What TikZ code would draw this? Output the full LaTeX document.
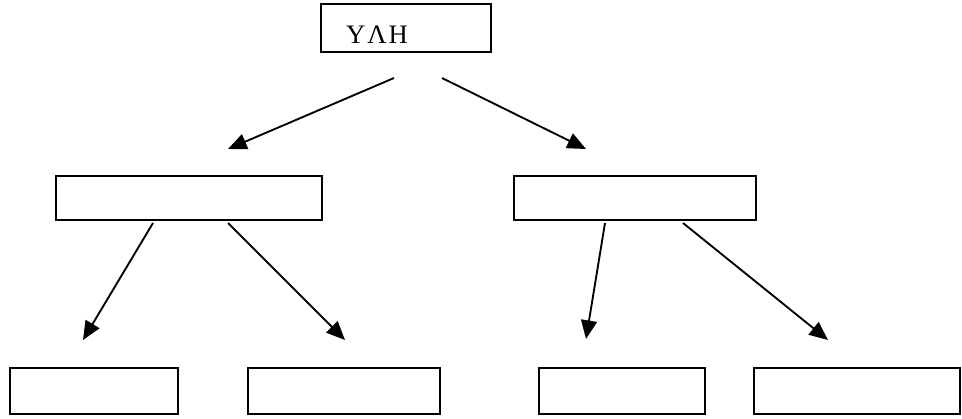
\documentclass[tikz,border=0pt]{standalone}
\usepackage{fontspec}
\setmainfont{Liberation Serif}
\usetikzlibrary{arrows.meta}
\begin{document}
\begin{tikzpicture}[x=0.75pt,y=-0.75pt,
  box/.style={draw,line width=1.7pt,inner sep=0pt},
  conn/.style={line width=1.4pt,-{Triangle[length=14pt,width=12pt]}}]
\useasboundingbox (0,0) rectangle (962,418);
% boxes
\node[box,minimum width=170*0.75pt,minimum height=48*0.75pt] (top) at (406,28) {};
\node[font=\fontsize{20}{24}\selectfont,inner sep=0pt] (toptext) at (377,34.5) {Υ\kern1.5ptΛ\kern1.5ptΗ};
\node[box,minimum width=266*0.75pt,minimum height=44*0.75pt] (ml) at (189,198) {};
\node[box,minimum width=242*0.75pt,minimum height=44*0.75pt] (mr) at (635,198) {};
\node[box,minimum width=168*0.75pt,minimum height=46*0.75pt] (b1) at (94,391) {};
\node[box,minimum width=192*0.75pt,minimum height=46*0.75pt] (b2) at (344,391) {};
\node[box,minimum width=166*0.75pt,minimum height=46*0.75pt] (b3) at (622,391) {};
\node[box,minimum width=206*0.75pt,minimum height=46*0.75pt] (b4) at (857,391) {};
% connector ends
\coordinate (s1) at (394,78); \coordinate (e1) at (228,149);
\coordinate (s2) at (442,78); \coordinate (e2) at (586,149);
\coordinate (s3) at (153,223); \coordinate (e3) at (83,340);
\coordinate (s4) at (228,223); \coordinate (e4) at (345,340);
\coordinate (s5) at (605,223); \coordinate (e5) at (586,339);
\coordinate (s6) at (683,223); \coordinate (e6) at (828,340);
\draw[conn] (s1) -- (e1);
\draw[conn] (s2) -- (e2);
\draw[conn] (s3) -- (e3);
\draw[conn] (s4) -- (e4);
\draw[conn] (s5) -- (e5);
\draw[conn] (s6) -- (e6);
\end{tikzpicture}
\end{document}
